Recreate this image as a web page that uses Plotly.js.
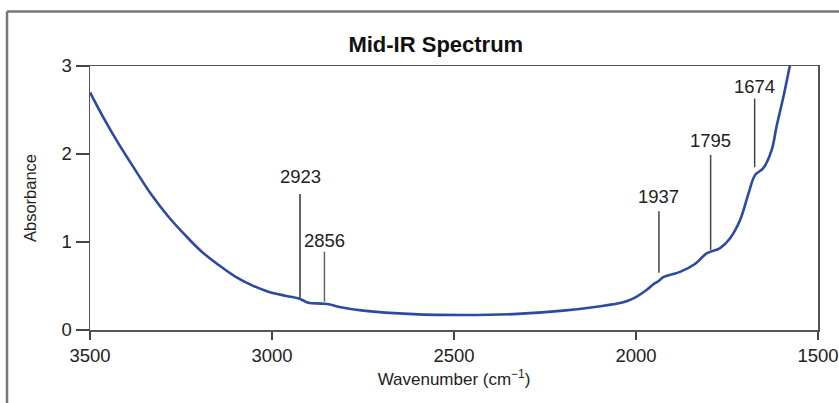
<!DOCTYPE html>
<html>
<head>
<meta charset="utf-8">
<script src="https://cdn.plot.ly/plotly-3.0.1.min.js"></script>
<style>
html, body { margin: 0; padding: 0; background: #ffffff; }
#chart { width: 839px; height: 403px; }
</style>
</head>
<body>
<div id="chart"></div>
<script>
// Spectrum (wavenumber in cm^-1, absorbance)
const wavenumber = [3500, 3460, 3422, 3376, 3330, 3285, 3239, 3193, 3147, 3102, 3056, 3010, 2964,
  2928, 2914, 2900, 2863, 2841, 2818, 2749, 2612, 2474, 2337, 2200, 2108, 2035, 2007, 1971,
  1952, 1937, 1925, 1879, 1838, 1806, 1769, 1742, 1714, 1691, 1673, 1650, 1627, 1614, 1595, 1577];
const absorbance = [2.70, 2.39, 2.12, 1.82, 1.53, 1.29, 1.08, 0.89, 0.74, 0.61, 0.51, 0.435, 0.39,
  0.36, 0.335, 0.31, 0.30, 0.29, 0.265, 0.22, 0.18, 0.17, 0.18, 0.22, 0.265, 0.315, 0.36, 0.455,
  0.52, 0.56, 0.60, 0.66, 0.75, 0.87, 0.93, 1.04, 1.25, 1.55, 1.76, 1.84, 2.05, 2.31, 2.65, 3.01];

// Peak markers
const peakWn = [2923, 2856, 1937, 1795, 1674];
const peakLabels = ['2923', '2856', '1937', '1795', '1674'];
const peakLineBottom = [0.37, 0.32, 0.65, 0.91, 1.85];
const peakLineTop = [1.545, 0.89, 1.35, 1.99, 2.63];
const peakLabelY = [1.74, 1.02, 1.52, 2.15, 2.77];
const peakLineColor = ['#333333', '#666666', '#444444', '#444444', '#444444'];

const xTicks = [3500, 3000, 2500, 2000, 1500];
const yTicks = [0, 1, 2, 3];

const textFont = 'Liberation Sans, Arial, sans-serif';

const shapes = peakWn.map((w, i) => ({
  type: 'line', xref: 'x', yref: 'y',
  x0: w, x1: w, y0: peakLineBottom[i], y1: peakLineTop[i],
  line: { color: peakLineColor[i], width: 1.5 }
}));

// outer frame (left and top edges of surrounding box)
shapes.push({ type: 'line', xref: 'paper', yref: 'paper', x0: -0.114, x1: -0.114, y0: -0.4, y1: 1.2064,
  line: { color: '#777777', width: 2.5 } });
shapes.push({ type: 'line', xref: 'paper', yref: 'paper', x0: -0.114, x1: 1.1, y0: 1.2064, y1: 1.2064,
  line: { color: '#777777', width: 2.5 } });

const annotations = peakWn.map((w, i) => ({
  x: w, y: peakLabelY[i], xref: 'x', yref: 'y',
  text: peakLabels[i], showarrow: false,
  xanchor: 'center', yanchor: 'middle',
  font: { family: textFont, size: 18.5, color: '#222222' }
}));

const trace = {
  x: wavenumber, y: absorbance, type: 'scatter', mode: 'lines',
  line: { color: '#2c4aa3', width: 2.6, shape: 'spline', smoothing: 1.0 },
  hoverinfo: 'x+y'
};

const layout = {
  width: 839, height: 403,
  margin: { l: 90, r: 21, t: 66, b: 73 },
  paper_bgcolor: '#ffffff', plot_bgcolor: '#ffffff',
  showlegend: false,
  title: {
    text: '<b>Mid-IR Spectrum</b>',
    font: { family: textFont, size: 22, color: '#111111' },
    x: 0.475, xref: 'paper', xanchor: 'center',
    y: 0.891, yref: 'container', yanchor: 'middle'
  },
  xaxis: {
    range: [3500, 1500], autorange: false,
    tickvals: xTicks, ticktext: xTicks.map(String),
    ticks: 'outside', ticklen: 8, tickwidth: 1.5, tickcolor: '#444444',
    showline: true, linecolor: '#555555', linewidth: 1.5, mirror: true,
    showgrid: false, zeroline: false,
    tickfont: { family: textFont, size: 18.5, color: '#222222' },
    title: { text: 'Wavenumber (cm<sup>−1</sup>)', standoff: 8,
      font: { family: textFont, size: 17, color: '#222222' } }
  },
  yaxis: {
    range: [0, 3], autorange: false,
    tickvals: yTicks, ticktext: yTicks.map(String),
    ticks: 'outside', ticklen: 13, tickwidth: 1.5, tickcolor: '#444444',
    showline: true, linecolor: '#555555', linewidth: 1.5, mirror: true,
    showgrid: false, zeroline: false,
    tickfont: { family: textFont, size: 18.5, color: '#222222' },
    title: { text: 'Absorbance', standoff: 20,
      font: { family: textFont, size: 16.5, color: '#222222' } }
  },
  shapes: shapes,
  annotations: annotations
};

Plotly.newPlot('chart', [trace], layout, { displayModeBar: false, staticPlot: true });
</script>
</body>
</html>
